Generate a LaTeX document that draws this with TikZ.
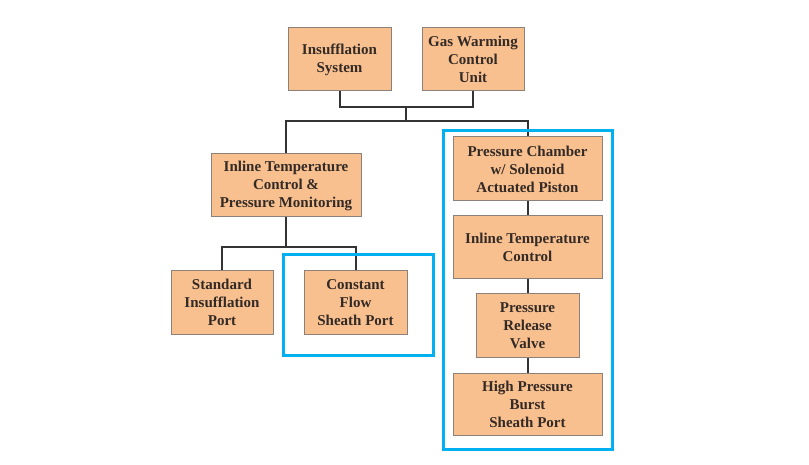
\documentclass[tikz,border=0pt]{standalone}
\usepackage{fontspec}
\setmainfont{Liberation Serif}
\usetikzlibrary{positioning}
\definecolor{boxfill}{HTML}{F9C08F}
\definecolor{boxline}{HTML}{8C8078}
\definecolor{hl}{HTML}{00B0F0}
\definecolor{txt}{HTML}{332A26}
\definecolor{conn}{HTML}{333333}
\begin{document}
\begin{tikzpicture}[x=1pt,y=-1pt,
  blk/.style={draw=boxline,line width=1pt,fill=boxfill,align=center,inner sep=0pt,
    font=\fontsize{15}{18}\selectfont\bfseries,text=txt},
  conn/.style={draw=conn,line width=2pt},
  hlbox/.style={draw=hl,line width=3pt}]
\useasboundingbox (0,0) rectangle (809,465);
\newcommand{\blkbox}[6]{\node[blk,minimum width={#4-#2},minimum height={#5-#3}] (#1) at ({(#2+#4)/2},{(#3+#5)/2}) {#6};}
\blkbox{ins}{288}{28}{391}{91}{Insufflation\\System}
\blkbox{gas}{422}{28}{524}{91}{Gas Warming\\Control\\Unit}
\blkbox{itcp}{211}{154}{361}{217}{Inline Temperature\\Control \&\\Pressure Monitoring}
\blkbox{std}{171}{271}{273}{334}{Standard\\Insufflation\\Port}
\blkbox{cfs}{304}{271}{407}{334}{Constant\\Flow\\Sheath Port}
\blkbox{pc}{453}{137}{602}{201}{Pressure Chamber\\w/ Solenoid\\Actuated Piston}
\blkbox{itc}{453}{216}{602}{279}{Inline Temperature\\Control}
\blkbox{prv}{476}{294}{579}{357}{Pressure\\Release\\Valve}
\blkbox{hpb}{453}{373}{602}{435}{High Pressure\\Burst\\Sheath Port}
\coordinate (j1) at (406,107);
\coordinate (j2) at (406,121);
\coordinate (j3) at (286,247);
\draw[conn] (ins.south) |- (j1) -| (gas.south);
\draw[conn] (j1) -- (j2);
\draw[conn] (j2) -| (itcp.north);
\draw[conn] (j2) -| (pc.north);
\draw[conn] (itcp.south) -- (j3);
\draw[conn] (j3) -| (std.north);
\draw[conn] (j3) -| (cfs.north);
\draw[conn] (pc.south) -- (itc.north);
\draw[conn] (itc.south) -- (prv.north);
\draw[conn] (prv.south) -- (hpb.north);
\node[hlbox,minimum width=150,minimum height=100,inner sep=0pt] (hl1) at (358,305) {};
\node[hlbox,minimum width=169,minimum height=318,inner sep=0pt] (hl2) at (527.5,290) {};
\end{tikzpicture}
\end{document}
